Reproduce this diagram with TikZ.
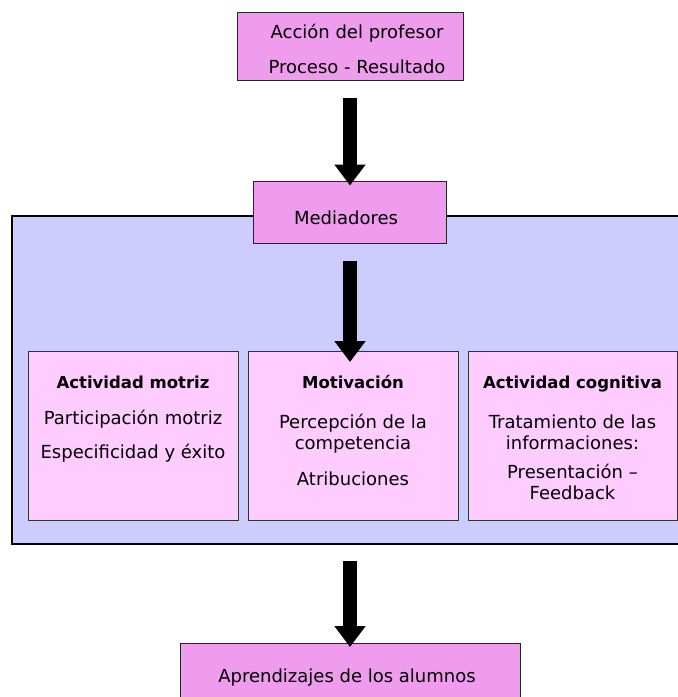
\documentclass[tikz,border=0pt]{standalone}
\usepackage{fontspec}
\setmainfont{DejaVu Sans}
\usetikzlibrary{arrows.meta,calc}
\definecolor{boxpink}{HTML}{F09CEE}
\definecolor{lightpink}{HTML}{FFCCFF}
\definecolor{areablue}{HTML}{CCCCFF}
\begin{document}
\begin{tikzpicture}[x=1pt,y=-1pt,
  mainbox/.style={draw=black!85, line width=1pt, fill=boxpink, inner sep=0pt},
  subbox/.style={draw=black!80, line width=0.9pt, fill=lightpink, inner sep=0pt},
  area/.style={draw=black, line width=2pt, fill=areablue, inner sep=0pt},
  txt/.style={inner sep=0pt, align=center, font=\fontsize{18}{21}\selectfont},
  ttl/.style={font=\fontsize{16.5}{21}\selectfont\bfseries},
  blockarrow/.style={line width=14pt, -{Triangle[width=30pt,length=21pt]}}
]
\useasboundingbox (0,0) rectangle (678,697);

% container of the mediators
\node[area, minimum width=700pt, minimum height=328pt, anchor=north west] (area) at (11,215) {};

% top box
\node[mainbox, minimum width=226pt, minimum height=68pt] (prof) at (350,46) {};
\node[txt, anchor=north] (proftext) at (357,23) {\rule{0pt}{15pt}Acción del profesor\\[14pt]Proceso - Resultado};

% mediators box
\node[mainbox, minimum width=193pt, minimum height=62pt] (med) at (350,212) {};
\node[txt, anchor=base] (medtext) at (346,224) {Mediadores};

% three inner boxes
\node[subbox, minimum width=210pt, minimum height=169pt, anchor=north west] (motriz) at (28,351) {};
\node[subbox, minimum width=210pt, minimum height=169pt, anchor=north west] (motiv) at (248,351) {};
\node[subbox, minimum width=209pt, minimum height=169pt, anchor=north west] (cogn) at (468,351) {};

\node[txt, anchor=north] (motriztext) at (133,373) {\rule{0pt}{15pt}{\bfseries\fontsize{16.5}{21}\selectfont Actividad motriz}\\[15pt]Participación motriz\\[13pt]Especificidad y éxito};
\node[txt, anchor=north] (motivtext) at (353,373) {\rule{0pt}{15pt}{\bfseries\fontsize{16.5}{21}\selectfont Motivación}\\[19pt]Percepción de la\\competencia\\[15pt]Atribuciones};
\node[txt, anchor=north] (cogntext) at (572.5,373) {\rule{0pt}{15pt}{\bfseries\fontsize{16.5}{21}\selectfont Actividad cognitiva}\\[19pt]Tratamiento de las\\informaciones:\\[8pt]Presentación –\\Feedback};

% bottom box
\node[mainbox, minimum width=340pt, minimum height=80pt, anchor=north west] (learn) at (180,643) {};
\node[txt, anchor=base] (learntext) at (347,682) {Aprendizajes de los alumnos};

% block arrows
\draw[blockarrow] ($(prof.south)+(0,17)$) -- ($(med.north)+(0,5)$);
\draw[blockarrow] ($(med.south)+(0,17)$) -- ($(med.south |- motiv.north)+(0,11)$);
\draw[blockarrow] ($(med.south |- area.south)+(0,16)$) -- ($(med.south |- learn.north)+(0,4)$);
\end{tikzpicture}
\end{document}
